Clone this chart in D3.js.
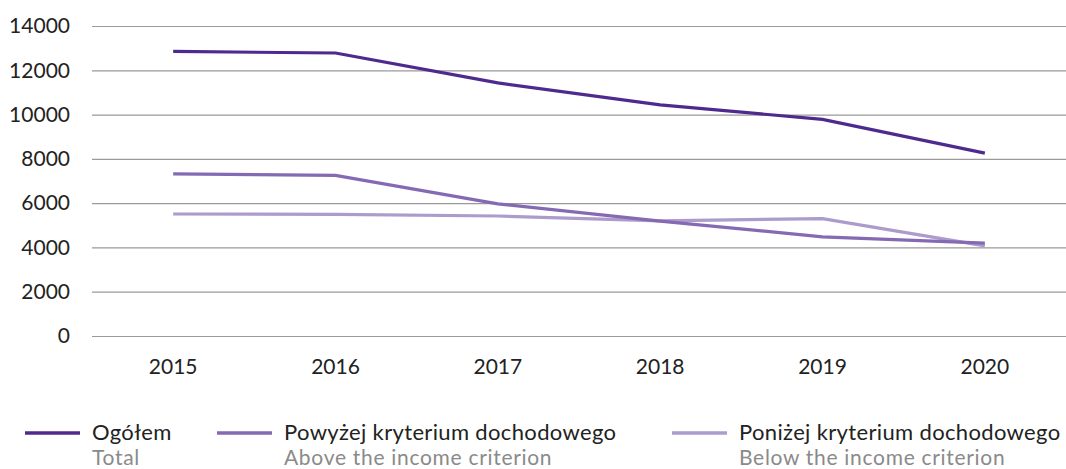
<!DOCTYPE html>
<html><head><meta charset="utf-8">
<script src="https://cdn.jsdelivr.net/npm/d3@7"></script>
<style>body{margin:0;background:#fff}text{font-family:Lato,sans-serif}</style>
</head><body><svg id="c" width="1066" height="469"></svg>
<script>
const years = ["2015","2016","2017","2018","2019","2020"];
const total = [12850, 12780, 11430, 10440, 9780, 8260];
const above = [7320, 7250, 5970, 5190, 4480, 4190];
const below = [5510, 5490, 5420, 5200, 5300, 4070];
const yTicks = [0,2000,4000,6000,8000,10000,12000,14000];
const seriesNames = ["Ogółem","Powyżej kryterium dochodowego","Poniżej kryterium dochodowego"];
const seriesNamesEn = ["Total","Above the income criterion","Below the income criterion"];
const colors = ["#4e2a8e","#8569b3","#ad9bcc"];

const svg = d3.select("#c");
const x = d3.scaleBand().domain(years).range([92,1066]);
const y = d3.scaleLinear().domain([0,14000]).range([336,26]);
const cx = d => x(d) + x.bandwidth()/2;

const ya = svg.append("g").attr("transform","translate(92,0)")
  .call(d3.axisLeft(y).tickValues(yTicks).tickSize(-974).tickFormat(d3.format("d")).tickPadding(22));
ya.select(".domain").remove();
ya.selectAll(".tick line").attr("stroke","#9a9a9a").attr("stroke-width",1.2);
ya.selectAll(".tick text").attr("font-size",21).attr("fill","#222").attr("font-family","Lato");

const xa = svg.append("g").attr("transform","translate(0,336)")
  .call(d3.axisBottom(x).tickSize(0).tickPadding(23));
xa.select(".domain").remove();
xa.selectAll(".tick text").attr("font-size",21).attr("fill","#222").attr("font-family","Lato");

const data = [total, above, below];
const line = d3.line().x((d,i)=>cx(years[i])).y(d=>y(d));
[2,1,0].forEach(k=>{
  svg.append("path").datum(data[k]).attr("d",line).attr("fill","none")
    .attr("stroke",colors[k]).attr("stroke-width",3.2);
});

const lx = [25,217,672];
seriesNames.forEach((n,i)=>{
  const g = svg.append("g").attr("transform",`translate(${lx[i]},0)`);
  g.append("line").attr("x1",0).attr("x2",55).attr("y1",433).attr("y2",433)
    .attr("stroke",colors[i]).attr("stroke-width",3.4);
  g.append("text").attr("x",67).attr("y",439.5).attr("font-size",22).attr("letter-spacing",0.35)
    .attr("fill","#222").text(n);
  g.append("text").attr("x",67).attr("y",465).attr("font-size",21).attr("letter-spacing",0.7)
    .attr("fill","#8a8a8a").text(seriesNamesEn[i]);
});
</script></body></html>
